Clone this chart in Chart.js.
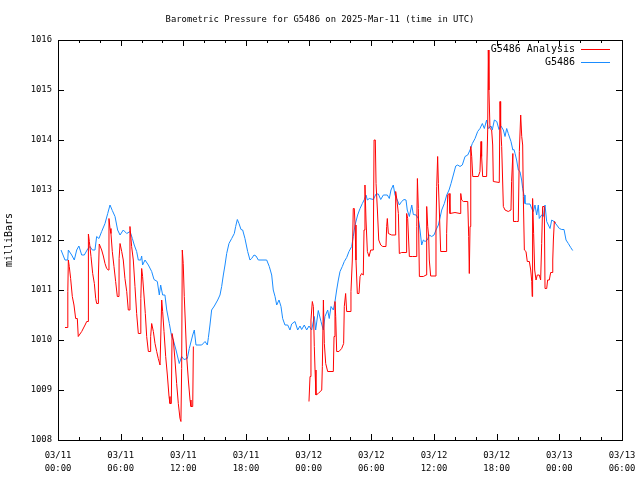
<!DOCTYPE html>
<html>
<head>
<meta charset="utf-8">
<script src="https://cdn.jsdelivr.net/npm/chart.js@4"></script>
<style>
html, body { margin: 0; padding: 0; background: #fff; }
</style>
</head>
<body>
<canvas id="pressureChart" width="640" height="480"></canvas>
<script>
// hours since 2025-03-11 00:00 UTC
const stationHours = [0.29,0.67,0.93,0.99,1.31,1.56,1.79,2.00,2.27,2.52,2.84,3.06,3.29,3.54,3.70,3.92,4.18,4.50,4.76,4.98,
  5.20,5.46,5.71,5.94,6.25,6.58,6.90,7.12,7.30,7.53,7.69,7.92,8.01,8.10,8.33,8.65,8.97,9.19,9.51,9.70,
  9.83,10.02,10.24,10.41,10.66,10.88,11.04,11.30,11.61,11.84,12.06,12.38,12.57,12.90,13.05,13.21,13.76,14.08,14.30,14.40,
  14.55,14.71,14.97,15.29,15.51,15.67,15.83,15.99,16.15,16.37,16.63,16.88,17.01,17.17,17.33,17.52,17.68,17.90,18.16,18.38,
  18.54,18.77,18.96,19.18,19.98,20.23,20.46,20.61,20.78,20.94,21.16,21.35,21.51,21.73,21.99,22.21,22.37,22.69,22.95,23.17,
  23.33,23.58,23.81,24.03,24.29,24.54,24.67,24.92,25.18,25.40,25.56,25.82,25.97,26.14,26.36,26.52,26.68,26.84,27.00,27.22,
  27.41,27.64,27.86,28.12,28.27,28.44,28.69,28.92,29.14,29.33,29.49,29.62,29.81,30.19,30.45,30.67,30.90,31.15,31.53,31.72,
  31.88,32.10,32.27,32.49,32.68,32.90,33.13,33.32,33.44,33.64,33.87,34.02,34.28,34.50,34.66,34.82,34.98,35.14,35.36,35.55,
  35.78,36.00,36.19,36.42,36.74,36.99,37.22,37.44,37.63,37.85,38.08,38.27,38.49,38.71,38.97,39.23,39.45,39.67,39.93,40.18,
  40.40,40.63,40.82,41.04,41.20,41.46,41.58,41.78,42.01,42.22,42.41,42.64,42.80,42.96,43.11,43.37,43.55,43.66,43.76,43.91,
  44.07,44.23,44.39,44.49,44.62,44.71,44.88,45.19,45.35,45.51,45.67,45.83,45.99,46.08,46.31,46.47,46.63,46.79,46.95,47.11,
  47.27,47.49,47.75,48.00,48.23,48.45,48.64,48.86,49.09,49.28];
const stationValues = [1011.80,1011.60,1011.60,1011.80,1011.70,1011.60,1011.80,1011.88,1011.70,1011.70,1011.82,1011.87,1011.80,1011.80,1012.07,1012.03,1012.17,1012.33,1012.53,1012.70,
  1012.59,1012.47,1012.20,1012.10,1012.20,1012.13,1012.17,1012.03,1011.90,1011.77,1011.60,1011.60,1011.68,1011.50,1011.60,1011.50,1011.37,1011.21,1011.17,1010.90,
  1011.10,1010.90,1010.90,1010.60,1010.33,1010.07,1010.00,1009.80,1009.53,1009.67,1009.61,1009.63,1009.83,1010.10,1010.20,1009.90,1009.90,1009.97,1009.90,1010.05,
  1010.30,1010.60,1010.68,1010.80,1010.90,1011.07,1011.30,1011.50,1011.73,1011.93,1012.03,1012.13,1012.27,1012.41,1012.33,1012.21,1012.20,1012.03,1011.77,1011.60,
  1011.63,1011.70,1011.68,1011.60,1011.60,1011.47,1011.30,1011.00,1010.87,1010.70,1010.80,1010.67,1010.43,1010.30,1010.30,1010.20,1010.32,1010.37,1010.20,1010.28,
  1010.21,1010.30,1010.20,1010.28,1010.20,1010.47,1010.20,1010.59,1010.37,1010.20,1010.47,1010.60,1010.43,1010.67,1010.60,1010.77,1011.00,1011.20,1011.37,1011.47,
  1011.57,1011.65,1011.77,1011.87,1012.07,1012.30,1012.50,1012.63,1012.73,1012.81,1012.90,1012.80,1012.83,1012.81,1012.92,1012.92,1012.81,1012.90,1012.90,1012.83,
  1013.00,1013.10,1012.90,1012.80,1012.70,1012.77,1012.81,1012.80,1012.60,1012.47,1012.70,1012.51,1012.50,1012.43,1012.20,1011.90,1012.00,1011.97,1012.00,1012.10,
  1012.07,1012.10,1012.20,1012.30,1012.60,1012.73,1012.90,1013.00,1013.13,1013.30,1013.48,1013.50,1013.47,1013.50,1013.67,1013.70,1013.80,1013.93,1014.03,1014.17,
  1014.23,1014.33,1014.23,1014.40,1014.23,1014.28,1014.20,1014.40,1014.37,1014.21,1014.28,1014.20,1014.07,1014.23,1014.13,1013.97,1013.80,1013.81,1013.73,1013.60,
  1013.40,1013.37,1013.20,1013.03,1012.90,1012.73,1012.72,1012.72,1012.63,1012.57,1012.70,1012.50,1012.70,1012.43,1012.50,1012.47,1012.70,1012.37,1012.30,1012.23,
  1012.40,1012.37,1012.30,1012.23,1012.21,1012.21,1012.00,1011.93,1011.85,1011.79];

// analysis series, null = no analysis (gap)
const analysisHours = [0.67,0.93,0.94,0.99,1.08,1.21,1.37,1.53,1.69,1.85,1.94,2.27,2.59,2.75,2.90,2.91,3.00,3.16,3.32,3.48,
  3.61,3.70,3.86,3.87,3.95,4.18,4.34,4.50,4.66,4.82,4.88,4.98,5.07,5.20,5.36,5.52,5.68,5.84,5.85,5.94,
  6.10,6.25,6.41,6.58,6.73,6.80,6.89,7.05,7.21,7.37,7.53,7.69,7.92,7.93,8.01,8.10,8.23,8.36,8.49,8.65,
  8.81,8.87,8.97,9.13,9.29,9.45,9.60,9.77,9.86,9.93,10.02,10.15,10.31,10.47,10.63,10.72,10.85,10.92,11.04,11.20,
  11.36,11.52,11.68,11.77,11.84,11.90,11.99,12.09,12.22,12.32,12.48,12.64,12.73,12.90,12.96,18.00,
  24.03,24.13,24.22,24.35,24.45,24.54,24.61,24.70,24.92,25.25,25.31,25.41,25.50,25.63,25.82,26.36,26.43,26.52,26.59,26.68,
  26.90,27.16,27.35,27.41,27.54,27.64,27.96,28.05,28.18,28.27,28.37,28.44,28.53,28.66,28.82,28.92,29.07,29.23,29.30,29.39,
  29.49,29.62,29.78,29.94,30.19,30.26,30.38,30.45,30.58,30.71,30.90,31.09,31.40,31.47,31.53,31.63,31.95,32.27,32.33,32.43,
  32.59,32.68,32.90,33.32,33.38,33.48,33.64,33.96,34.28,34.35,34.41,34.50,34.60,34.98,35.24,35.30,35.40,35.49,35.55,35.68,
  36.10,36.19,36.26,36.35,36.42,36.51,36.64,37.15,37.21,37.31,37.44,37.53,38.01,38.49,38.56,38.65,38.81,39.23,39.32,39.38,
  39.45,39.52,39.61,39.71,40.24,40.40,40.50,40.56,40.66,41.04,41.14,41.20,41.26,41.36,41.52,41.62,41.68,42.25,42.32,42.38,
  42.48,42.57,42.64,42.80,43.11,43.37,43.43,43.55,43.61,43.91,44.07,44.17,44.30,44.40,44.49,44.55,44.65,44.81,44.93,45.13,
  45.26,45.36,45.40,45.44,45.54,45.64,45.77,45.89,46.08,46.21,46.31,46.40,46.56,46.63,46.79,46.88,47.04,47.17,47.30,47.37,
  47.43,47.52,47.65];
const analysisValues = [1010.25,1010.25,1010.97,1011.60,1011.47,1011.23,1010.87,1010.70,1010.43,1010.43,1010.07,1010.17,1010.30,1010.37,1010.37,1012.12,1011.97,1011.67,1011.33,1011.13,
  1010.83,1010.73,1010.73,1011.30,1011.92,1011.80,1011.68,1011.53,1011.43,1011.40,1012.43,1012.23,1012.13,1011.77,1011.47,1011.17,1010.87,1010.87,1011.63,1011.93,
  1011.77,1011.60,1011.23,1010.97,1010.60,1010.60,1012.27,1011.87,1011.60,1011.07,1010.53,1010.13,1010.13,1010.83,1011.43,1011.27,1010.90,1010.53,1010.07,1009.77,
  1009.77,1010.07,1010.33,1010.17,1009.93,1009.77,1009.63,1009.50,1009.50,1010.80,1010.57,1010.17,1009.67,1009.30,1008.87,1008.73,1008.73,1010.13,1010.00,1009.60,
  1009.13,1008.73,1008.43,1008.37,1009.43,1011.80,1011.53,1010.87,1010.20,1009.67,1009.20,1008.80,1008.67,1008.67,1009.87,null,
  1008.77,1009.27,1010.40,1010.77,1010.67,1009.87,1009.40,1008.90,1008.93,1009.00,1009.47,1010.80,1009.93,1009.53,1009.37,1009.37,1010.07,1010.77,1010.47,1009.77,
  1009.77,1009.83,1009.93,1010.67,1010.93,1010.57,1010.57,1010.97,1011.60,1012.63,1012.63,1012.30,1011.60,1010.93,1010.93,1011.27,1011.33,1011.30,1012.20,1013.10,
  1012.40,1011.77,1011.67,1011.80,1011.80,1014.00,1014.00,1013.13,1012.60,1012.00,1011.90,1011.87,1011.87,1012.27,1012.43,1012.13,1012.10,1012.10,1012.97,1012.83,
  1012.53,1011.73,1011.75,1011.75,1012.53,1012.43,1011.67,1011.67,1011.67,1012.27,1013.23,1012.63,1011.27,1011.27,1011.30,1012.67,1012.27,1012.07,1011.60,1011.28,
  1011.28,1012.20,1013.07,1013.67,1013.13,1012.60,1011.77,1011.77,1012.13,1012.90,1012.93,1012.53,1012.55,1012.53,1012.93,1012.80,1012.77,1012.77,1012.07,1011.33,
  1012.27,1013.87,1013.67,1013.27,1013.27,1013.37,1013.97,1013.67,1013.27,1013.27,1014.20,1015.80,1015.00,1014.23,1014.20,1013.90,1013.17,1013.15,1014.77,1014.27,
  1013.87,1013.20,1012.67,1012.60,1012.57,1012.60,1013.17,1013.73,1012.37,1012.37,1012.37,1013.77,1014.50,1014.07,1013.90,1012.87,1011.80,1011.77,1011.57,1011.57,
  1011.40,1011.17,1010.87,1012.83,1012.13,1011.40,1011.20,1011.30,1011.30,1011.20,1011.93,1012.67,1012.67,1011.03,1011.03,1011.20,1011.20,1011.35,1011.35,1011.60,
  1012.00,1012.37,1012.35];

const xMin = 0, xMax = 54, xStep = 2, xLabelEvery = 6;
const yMin = 1008, yMax = 1016, yStep = 1;
const titleText = 'Barometric Pressure for G5486 on 2025-Mar-11 (time in UTC)';

const MONO = "'DejaVu Sans Mono', monospace";
const FONT_SIZE = 8.85;
const toPoints = (xs, ys) => xs.map((x, i) => ({ x: x, y: ys[i] }));

const tickLabel = (v) => {
    if (v % xLabelEvery !== 0) return '';
    const day = 11 + Math.floor(v / 24);
    const hr = v % 24;
    return ['03/' + day, String(hr).padStart(2, '0') + ':00'];
};

// gnuplot style frame: full border with inward ticks on all four sides
const framePlugin = {
    id: 'frame',
    beforeDatasetsDraw(chart) {
        const { ctx, chartArea: a, scales } = chart;
        ctx.save();
        ctx.strokeStyle = '#000';
        ctx.lineWidth = 1;
        ctx.beginPath();
        scales.x.ticks.forEach(t => {
            const px = Math.round(scales.x.getPixelForValue(t.value)) + 0.5;
            const len = t.value % xLabelEvery === 0 ? 6 : 3;
            ctx.moveTo(px, a.bottom); ctx.lineTo(px, a.bottom - len);
            ctx.moveTo(px, a.top); ctx.lineTo(px, a.top + len);
        });
        scales.y.ticks.forEach(t => {
            const py = Math.round(scales.y.getPixelForValue(t.value)) + 0.5;
            ctx.moveTo(a.left, py); ctx.lineTo(a.left + 6, py);
            ctx.moveTo(a.right, py); ctx.lineTo(a.right - 6, py);
        });
        ctx.stroke();
        ctx.strokeRect(Math.round(a.left) + 0.5, Math.round(a.top) + 0.5,
            Math.round(a.right - a.left), Math.round(a.bottom - a.top));
        ctx.restore();
    }
};

// title centred on the whole canvas, key top-right (text then line sample)
const textPlugin = {
    id: 'texts',
    afterDraw(chart) {
        const { ctx } = chart;
        ctx.save();
        ctx.fillStyle = '#000';
        ctx.textBaseline = 'middle';
        ctx.font = FONT_SIZE + 'px ' + MONO;
        ctx.textAlign = 'center';
        ctx.fillText(titleText, chart.width / 2, 19.5);

        ctx.font = '10px ' + MONO;
        ctx.textAlign = 'right';
        chart.data.datasets.forEach((ds, i) => {
            const y = 49.5 + i * 13;
            ctx.fillStyle = '#000';
            ctx.fillText(ds.label, 575, y);
            ctx.strokeStyle = ds.borderColor;
            ctx.lineWidth = 1;
            ctx.beginPath();
            ctx.moveTo(581, y); ctx.lineTo(610, y);
            ctx.stroke();
        });
        ctx.restore();
    }
};

new Chart(document.getElementById('pressureChart'), {
    type: 'line',
    data: {
        datasets: [{
            label: 'G5486 Analysis',
            data: toPoints(analysisHours, analysisValues),
            borderColor: '#ff0000',
            borderWidth: 1,
            pointRadius: 0,
            spanGaps: false,
            tension: 0
        }, {
            label: 'G5486',
            data: toPoints(stationHours, stationValues),
            borderColor: '#1a8cff',
            borderWidth: 1,
            pointRadius: 0,
            tension: 0
        }]
    },
    options: {
        responsive: false,
        animation: false,
        events: [],
        layout: { padding: { top: 40, right: 18, bottom: 0, left: 0 } },
        plugins: {
            legend: { display: false },
            tooltip: { enabled: false },
            title: { display: false }
        },
        scales: {
            x: {
                type: 'linear',
                min: xMin,
                max: xMax,
                grid: { display: false, drawTicks: false },
                border: { display: false },
                afterFit: (s) => { s.height = 40; s.paddingLeft = 0; s.paddingRight = 0; },
                ticks: {
                    stepSize: xStep,
                    autoSkip: false,
                    maxRotation: 0,
                    padding: 9,
                    color: '#000',
                    font: { family: MONO, size: FONT_SIZE, lineHeight: 1.47 },
                    callback: tickLabel
                }
            },
            y: {
                min: yMin,
                max: yMax,
                grid: { display: false, drawTicks: false },
                border: { display: false },
                afterFit: (s) => { s.width = 58; s.paddingTop = 0; s.paddingBottom = 0; },
                title: {
                    display: true,
                    text: 'milliBars',
                    color: '#000',
                    font: { family: MONO, size: 10 },
                    padding: { top: 3, bottom: 0 }
                },
                ticks: {
                    stepSize: yStep,
                    padding: 6,
                    color: '#000',
                    font: { family: MONO, size: FONT_SIZE },
                    callback: (v) => String(v)
                }
            }
        }
    },
    plugins: [framePlugin, textPlugin]
});
</script>
</body>
</html>
